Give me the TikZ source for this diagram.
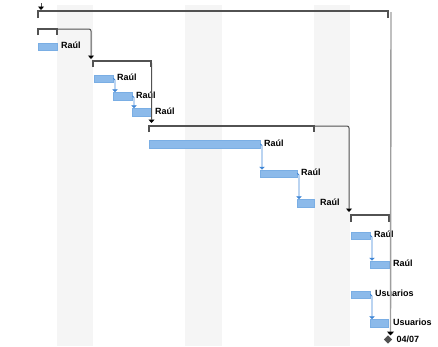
\documentclass[tikz,border=0pt]{standalone}
\usepackage{fontspec}
\setmainfont{Liberation Sans}
\usetikzlibrary{arrows.meta,calc,shapes.geometric}
\definecolor{barfill}{HTML}{8CBAEA}
\definecolor{barline}{HTML}{7AAEE4}
\definecolor{linkblue}{HTML}{3F86D6}
\definecolor{sumgray}{HTML}{525252}
\definecolor{bandgray}{HTML}{F5F5F5}
\definecolor{critgray}{HTML}{9E9E9E}
\begin{document}
\begin{tikzpicture}[x=1pt,y=-1pt,
  bar/.style={draw=barline, line width=0.4pt, fill=barfill, minimum height=7.5pt,
              inner sep=0pt, anchor=west, outer sep=0pt},
  lbl/.style={font=\bfseries\fontsize{9}{10}\selectfont, anchor=west, inner sep=0pt},
  sumline/.style={draw=sumgray, line width=1.6pt, line cap=butt},
  sumlink/.style={draw=sumgray, line width=1pt, rounded corners=2pt,
                  -{Triangle[length=3.5pt,width=6pt,color=black]}},
  link/.style={draw=linkblue, line width=0.8pt, rounded corners=1.5pt,
               -{Triangle[length=3pt,width=5.5pt]}},
]
\useasboundingbox (0,0) rectangle (438,346);

% non-working days
\foreach \xa/\xb in {57/93, 185/222, 314/350}
  \fill[bandgray] (\xa,5) rectangle (\xb,346);

% project summary
\coordinate (s0a) at (38,11);
\coordinate (s0b) at (388,11);
\draw[sumline] ($(s0a)+(0,7)$) -- (s0a) -- (s0b) -- ++(0,7);
\coordinate (p0) at (41,3);
\coordinate (p1) at (41,10);
\draw[sumlink] (p0) -- (p1);

% phase 1
\coordinate (s1a) at (38,29);
\coordinate (s1b) at (57,29);
\draw[sumline] ($(s1a)+(0,6)$) -- (s1a) -- (s1b) -- ++(0,6);
\node[bar, minimum width=19pt] (t1) at (38,46.5) {};
\node[lbl] (l1) at ($(t1.east)+(4,-1)$) {Raúl};

% phase 2
\coordinate (s2a) at (93,61);
\coordinate (s2b) at (151,61);
\draw[sumline] ($(s2a)+(0,6)$) -- (s2a) -- (s2b) -- ++(0,6);
\coordinate (s2in) at (91,59);
\draw[sumlink] (s1b) -| (s2in);
\node[bar, minimum width=19pt] (t2) at (94,78.5) {};
\node[bar, minimum width=19pt] (t3) at (113,96) {};
\node[bar, minimum width=19pt] (t4) at (132,112) {};
\node[lbl] (l2) at ($(t2.east)+(4,-1)$) {Raúl};
\node[lbl] (l3) at ($(t3.east)+(4,-1)$) {Raúl};
\node[lbl] (l4) at ($(t4.east)+(4,-1)$) {Raúl};
\draw[link] (t2.east) -| ($(t3.north west)+(2,0)$);
\draw[link] (t3.east) -| ($(t4.north west)+(2,0)$);

% phase 3
\coordinate (s3a) at (149,126);
\coordinate (s3b) at (314,126);
\draw[sumline] ($(s3a)+(0,6)$) -- (s3a) -- (s3b) -- ++(0,6);
\coordinate (s3in) at (151.5,123);
\draw[sumlink] (s2b) -| (s3in);
\node[bar, minimum width=111pt] (t5) at (149,144) {};
\node[bar, minimum width=37pt] (t6) at (260,173.5) {};
\node[bar, minimum width=17pt] (t7) at (297,203) {};
\node[lbl] (l5) at ($(t5.east)+(4,-1)$) {Raúl};
\node[lbl] (l6) at ($(t6.east)+(4,-1)$) {Raúl};
\node[lbl] (l7) at ($(t7.east)+(6,-1)$) {Raúl};
\draw[link] (t5.east) -| ($(t6.north west)+(2,0)$);
\draw[link] (t6.east) -| ($(t7.north west)+(2,0)$);

% phase 4
\coordinate (s4a) at (351,215);
\coordinate (s4b) at (389,215);
\draw[sumline] ($(s4a)+(0,7)$) -- (s4a) -- (s4b) -- ++(0,7);
\coordinate (s4in) at (349,212);
\draw[sumlink] (s3b) -| (s4in);
\node[bar, minimum width=19pt] (t8) at (351,235.5) {};
\node[bar, minimum width=19pt] (t9) at (370,264.5) {};
\node[bar, minimum width=19pt] (t10) at (351,294.5) {};
\node[bar, minimum width=18pt] (t11) at (370,323) {};
\node[lbl] (l8) at ($(t8.east)+(4,-1)$) {Raúl};
\node[lbl] (l9) at ($(t9.east)+(4,-1)$) {Raúl};
\node[lbl] (l10) at ($(t10.east)+(5,-1)$) {Usuarios};
\node[lbl] (l11) at ($(t11.east)+(5,-1)$) {Usuarios};
\draw[link] (t8.east) -| ($(t9.north west)+(2,0)$);
\draw[link] (t10.east) -| ($(t11.north west)+(2,0)$);

% end milestone
\node[diamond, fill=sumgray, inner sep=0pt, minimum size=8.5pt] (ms) at (388,339.5) {};
\node[lbl] (lms) at ($(ms.east)+(4,0)$) {04/07};
\coordinate (msin) at (390.5,335.5);
\draw[draw=critgray, line width=1.4pt,
      -{Triangle[length=4pt,width=7pt,color=black]}] (391,12) -- (msin);
\end{tikzpicture}
\end{document}
